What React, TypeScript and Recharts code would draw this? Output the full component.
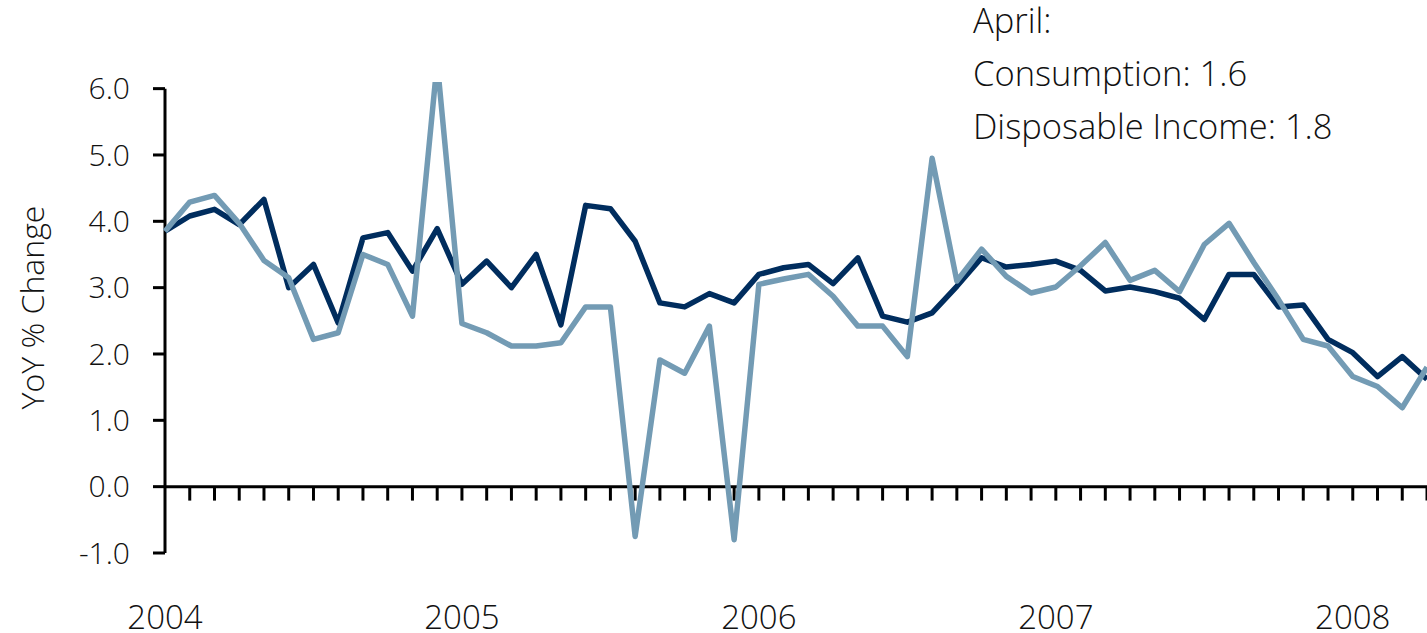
import React from "react";
import { LineChart, Line, XAxis, YAxis, ReferenceLine } from "recharts";

const monthNames = ["Jan", "Feb", "Mar", "Apr", "May", "Jun", "Jul", "Aug", "Sep", "Oct", "Nov", "Dec"];
const years = [2004, 2005, 2006, 2007, 2008];
const months: string[] = [];
years.forEach((y) => monthNames.forEach((m) => months.push(`${m} ${y}`)));
months.splice(52); // Jan 2004 .. Apr 2008

const consumption = [
  3.85, 4.08, 4.18, 3.95, 4.33, 3.0, 3.35, 2.47, 3.75, 3.83, 3.25, 3.89,
  3.05, 3.4, 3.0, 3.5, 2.44, 4.24, 4.19, 3.7, 2.77, 2.71, 2.91, 2.77,
  3.2, 3.3, 3.35, 3.06, 3.45, 2.57, 2.48, 2.62, 3.02, 3.45, 3.31, 3.35,
  3.4, 3.26, 2.95, 3.01, 2.94, 2.84, 2.52, 3.2, 3.2, 2.71, 2.74, 2.22,
  2.02, 1.66, 1.96, 1.62,
];

const disposableIncome = [
  3.85, 4.29, 4.39, 3.97, 3.41, 3.15, 2.22, 2.32, 3.5, 3.35, 2.57, 6.4,
  2.46, 2.32, 2.12, 2.12, 2.17, 2.71, 2.71, -0.75, 1.91, 1.71, 2.42, -0.8,
  3.05, 3.13, 3.2, 2.87, 2.42, 2.42, 1.96, 4.95, 3.1, 3.58, 3.17, 2.92,
  3.01, 3.33, 3.68, 3.11, 3.26, 2.94, 3.65, 3.97, 3.38, 2.82, 2.22, 2.12,
  1.66, 1.51, 1.19, 1.8,
];

const yearTickIndex = [0, 12, 24, 36, 48];
const yearTickLabels = ["2004", "2005", "2006", "2007", "2008"];
const yTicks = [-1, 0, 1, 2, 3, 4, 5, 6];
const annotationLines = ["April:", "Consumption: 1.6", "Disposable Income: 1.8"];

const data = months.map((m, i) => ({
  idx: i,
  month: m,
  consumption: consumption[i],
  income: disposableIncome[i],
}));

const FONT = "'Open Sans', 'DejaVu Sans', sans-serif";
const DARK = "#002D5E";
const LIGHT = "#739BB4";

const YTitle = (props: any) => {
  const vb = props.viewBox || { x: 0, y: 0, width: 0, height: 0 };
  const cx = vb.x + 33;
  const cy = vb.y + vb.height / 2 - 10;
  return (
    <text
      x={cx}
      y={cy}
      dy="0.35em"
      textAnchor="middle"
      transform={`rotate(-90, ${cx}, ${cy})`}
      fontFamily={FONT}
      fontWeight={300}
      fontSize={32}
      fill="#111"
    >
      YoY % Change
    </text>
  );
};

export default function App() {
  return (
    <div style={{ position: "absolute", left: 0, top: 0, width: 1427, height: 633, background: "#fff" }}>
      <LineChart
        width={1427}
        height={633}
        data={data}
        margin={{ top: 82, right: 0, bottom: 0, left: 0 }}
      >
        <XAxis
          dataKey="idx"
          type="number"
          domain={[0, months.length - 1]}
          ticks={yearTickIndex}
          tickFormatter={(v: number) => yearTickLabels[yearTickIndex.indexOf(v)] ?? ""}
          axisLine={false}
          tickLine={false}
          tickSize={0}
          tickMargin={53}
          height={80}
          interval={0}
          tick={{ fontFamily: FONT, fontWeight: 300, fontSize: 33, fill: "#111" }}
        />
        <YAxis
          type="number"
          domain={[-1, 6.1]}
          allowDataOverflow
          ticks={yTicks}
          interval={0}
          tickFormatter={(v: number) => v.toFixed(1)}
          width={165}
          axisLine={false}
          tickLine={{ stroke: "#000", strokeWidth: 3 }}
          tickSize={12}
          tickMargin={23}
          tick={{ fontFamily: FONT, fontWeight: 300, fontSize: 30, fill: "#111" }}
          label={<YTitle />}
        />
        <ReferenceLine
          segment={[{ x: 0, y: -1 }, { x: 0, y: 6 }]}
          stroke="#000"
          strokeWidth={3}
          ifOverflow="visible"
        />
        <ReferenceLine y={0} stroke="#000" strokeWidth={3} ifOverflow="visible" />
        {months.slice(1).map((m, k) => (
          <ReferenceLine
            key={m}
            segment={[{ x: k + 1, y: 0 }, { x: k + 1, y: -0.21 }]}
            stroke="#000"
            strokeWidth={3}
            ifOverflow="visible"
          />
        ))}
        <Line
          type="linear"
          dataKey="consumption"
          stroke={DARK}
          strokeWidth={5.5}
          dot={false}
          activeDot={false}
          strokeLinejoin="round"
          isAnimationActive={false}
        />
        <Line
          type="linear"
          dataKey="income"
          stroke={LIGHT}
          strokeWidth={5.5}
          dot={false}
          activeDot={false}
          strokeLinejoin="round"
          isAnimationActive={false}
        />
      </LineChart>
      <div
        style={{
          position: "absolute",
          left: 973,
          top: -7,
          fontFamily: FONT,
          fontWeight: 300,
          fontSize: 34.5,
          lineHeight: "53px",
          color: "#111",
          whiteSpace: "nowrap",
        }}
      >
        {annotationLines.map((t) => (
          <div key={t}>{t}</div>
        ))}
      </div>
    </div>
  );
}
